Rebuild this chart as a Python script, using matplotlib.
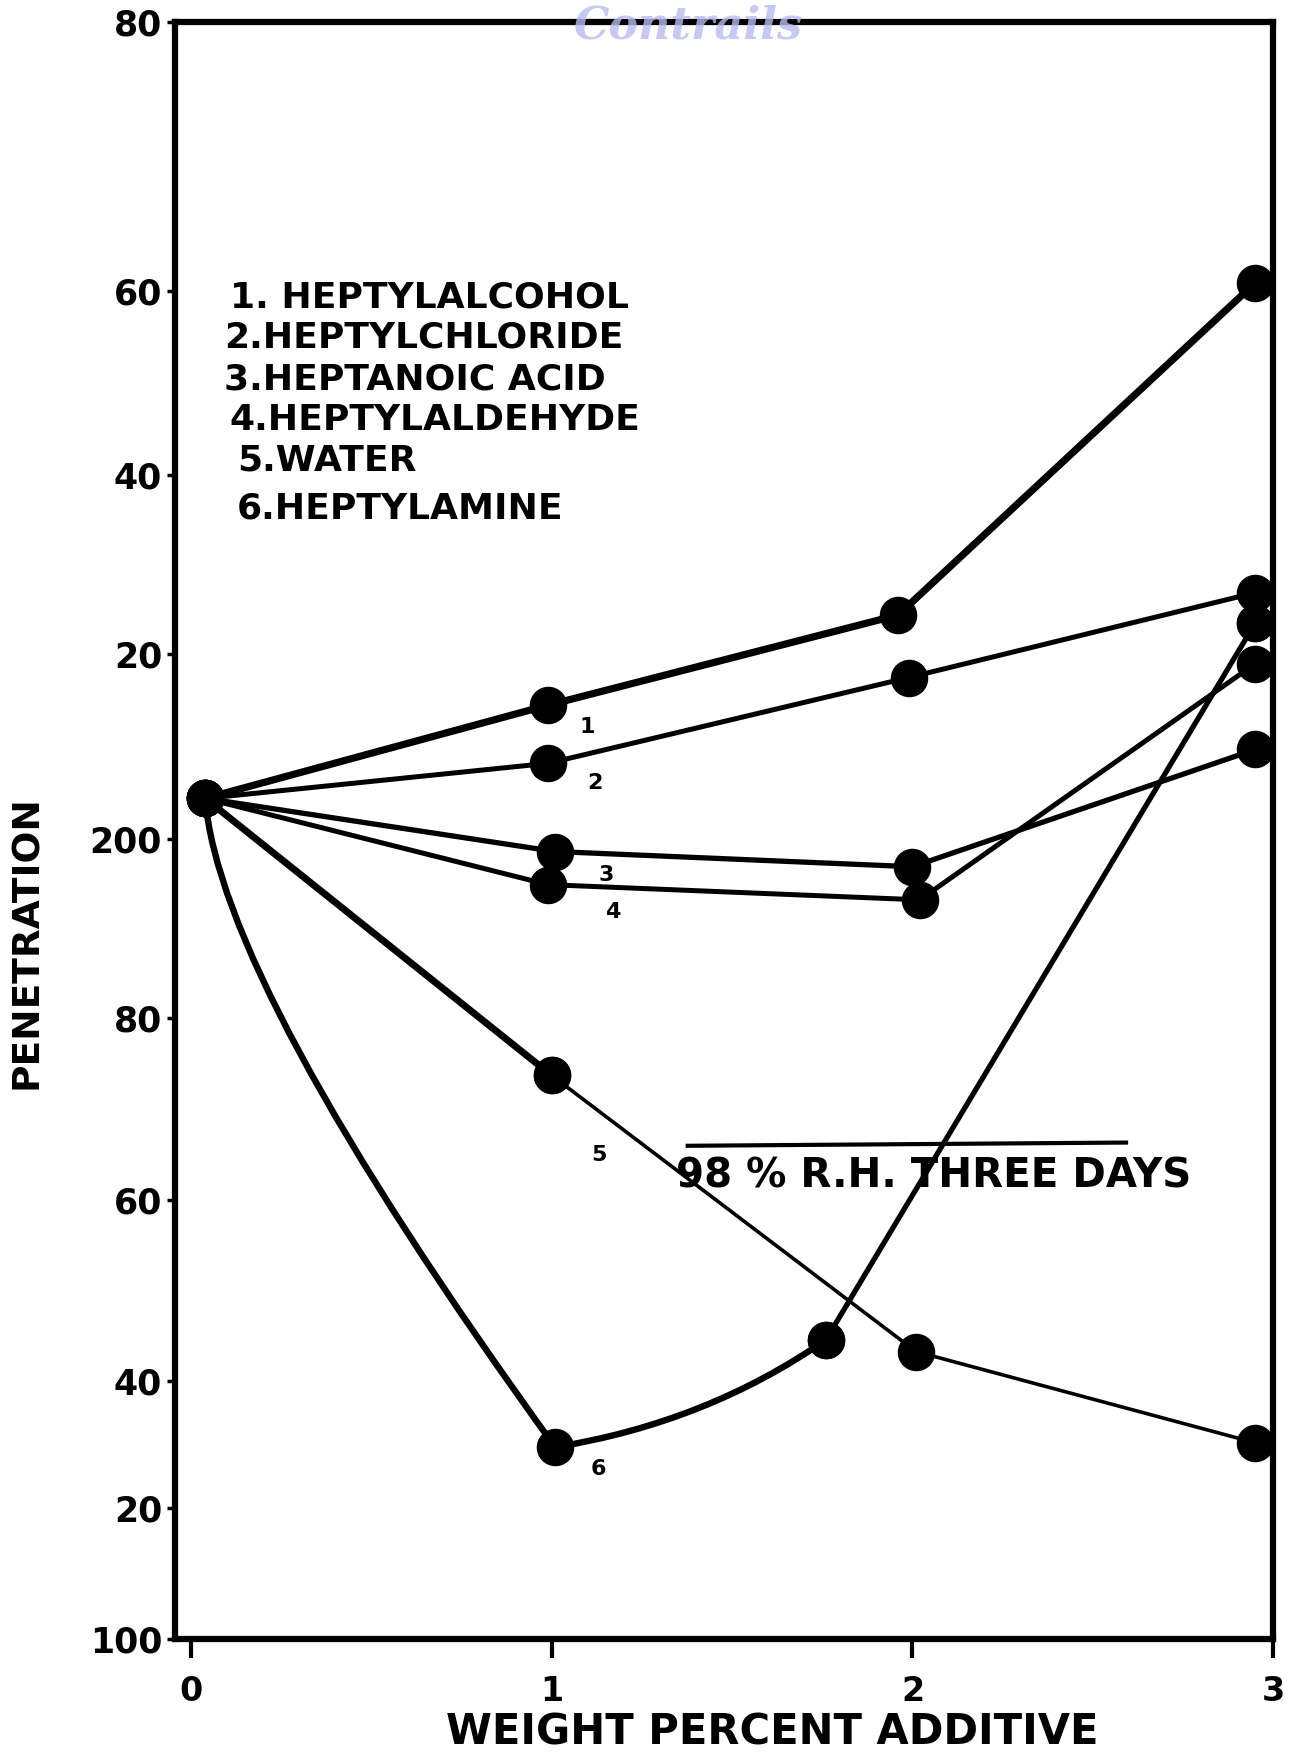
import numpy as np
import matplotlib.pyplot as plt
from matplotlib.path import Path
from matplotlib.patches import PathPatch

plt.rcParams['font.family'] = ['DejaVu Sans']
plt.rcParams['font.weight'] = 'bold'

# the y axis of the sheet is ruled by hand: value of each tick, what is printed
# there, and how high it sits above the frame bottom on the scan
y_tick_vals = [100, 120, 140, 160, 180, 200, 220, 240, 260, 280]
y_tick_text = ["100", "20", "40", "60", "80", "200", "20", "40", "60", "80"]
y_tick_height = [0, 117, 230, 392, 555, 715, 880, 1040, 1205, 1445]

x_ticks = [0, 1, 2, 3]

names = ["HEPTYLALCOHOL", "HEPTYLCHLORIDE", "HEPTANOIC ACID",
         "HEPTYLALDEHYDE", "WATER", "HEPTYLAMINE"]

alcohol_x = [0.04, 0.99, 1.96, 2.95]
alcohol_y = [204.4, 214.5, 224.4, 260.6]
chloride_x = [0.04, 0.99, 1.99, 2.95]
chloride_y = [204.4, 208.2, 217.5, 226.9]
acid_x = [0.04, 1.01, 2.0, 2.95]
acid_y = [204.4, 198.6, 196.9, 209.7]
aldehyde_x = [0.04, 0.99, 2.02, 2.95]
aldehyde_y = [204.4, 194.9, 193.2, 219.0]
water_x = [0.04, 1.0, 2.01, 2.95]
water_y = [204.4, 173.7, 143.3, 130.3]
amine_x = [0.04, 1.01, 1.76, 2.95]
amine_y = [204.4, 129.6, 144.6, 223.5]

# the amine points 1-2 and 2-3 are joined by freehand curves;
# bend points (one per curve)
amine_bend_x = [0.08, 1.43]
amine_bend_y = [183.8, 133.5]


def to_height(v):
    return np.interp(v, y_tick_vals, y_tick_height)


def from_height(h):
    return np.interp(h, y_tick_height, y_tick_vals)


fig = plt.figure(figsize=(12.99, 17.54), dpi=100)
ax = fig.add_axes([0.1344, 0.0657, 0.8458, 0.9215])
ax.set_yscale('function', functions=(to_height, from_height))
ax.set_xlim(-0.045, 3.0)
ax.set_ylim(100, 280)

mk = dict(marker='o', markersize=26, color='k', clip_on=False,
          solid_joinstyle='round', solid_capstyle='round')

ax.plot(alcohol_x, alcohol_y, lw=5.2, **mk)
ax.plot(chloride_x, chloride_y, lw=3.6, **mk)
ax.plot(acid_x, acid_y, lw=3.8, **mk)
ax.plot(aldehyde_x, aldehyde_y, lw=3.6, **mk)
ax.plot(water_x[:2], water_y[:2], lw=5.0, **mk)
ax.plot(water_x[1:], water_y[1:], lw=2.6, **mk)

verts = [(amine_x[0], amine_y[0]), (amine_bend_x[0], amine_bend_y[0]), (amine_x[1], amine_y[1]),
         (amine_bend_x[1], amine_bend_y[1]), (amine_x[2], amine_y[2])]
codes = [Path.MOVETO, Path.CURVE3, Path.CURVE3, Path.CURVE3, Path.CURVE3]
ax.add_patch(PathPatch(Path(verts, codes), fill=False, lw=4.6, edgecolor='k',
                       transform=ax.transData, capstyle='round', joinstyle='round'))
ax.plot(amine_x[2:], amine_y[2:], lw=3.8, **mk)
ax.plot(amine_x, amine_y, ls='none', **mk)

# series numbers written next to the points at 1 %
num_x = [1.10, 1.12, 1.15, 1.17, 1.13, 1.13]
num_y = [212.1, 206.1, 196.0, 191.8, 165.0, 126.2]
for i in range(6):
    ax.text(num_x[i], num_y[i], str(i + 1), fontsize=16, ha='center', va='center')

# key in the upper left
key_x = [0.050, 0.045, 0.045, 0.050, 0.057, 0.057]
key_y = [0.830, 0.805, 0.779, 0.754, 0.729, 0.699]
for i, n in enumerate(names):
    sep = ". " if i == 0 else "."
    ax.text(key_x[i], key_y[i], f"{i + 1}{sep}{n}", transform=ax.transAxes,
            fontsize=26, ha='left', va='center')

ax.plot([0.467, 0.866], [0.305, 0.307], transform=ax.transAxes, color='k', lw=3)
ax.text(0.691, 0.286, "98 % R.H. THREE DAYS", transform=ax.transAxes,
        fontsize=29, ha='center', va='center')

ax.set_xticks(x_ticks)
ax.set_xticklabels([str(t) for t in x_ticks])
ax.set_yticks(y_tick_vals)
ax.set_yticklabels(y_tick_text)
ax.tick_params(axis='x', direction='out', length=14, width=3, pad=12, labelsize=24)
ax.tick_params(axis='y', direction='out', length=6, width=2.5, pad=3, labelsize=25)
for s in ax.spines.values():
    s.set_linewidth(4.5)

ax.set_xlabel("WEIGHT PERCENT ADDITIVE", fontsize=30, fontweight='bold')
ax.xaxis.set_label_coords(0.544, -0.045)
ax.set_ylabel("PENETRATION", fontsize=27, fontweight='bold')
ax.yaxis.set_label_coords(-0.118, 0.431)

fig.text(0.53, 0.985, "Contrails", fontsize=32, style='italic', family='DejaVu Serif',
         color='#b8bcf0', alpha=0.8, ha='center', va='center', zorder=10)

fig.savefig('out.png', dpi=100)
